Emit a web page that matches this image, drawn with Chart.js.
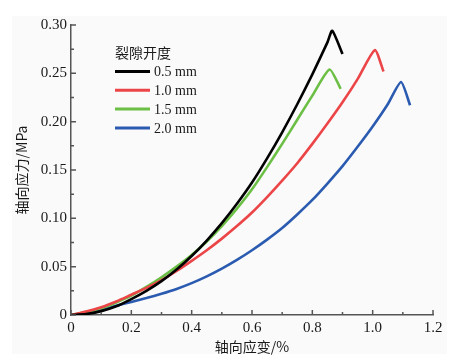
<!DOCTYPE html>
<html>
<head>
<meta charset="utf-8">
<script src="https://cdn.jsdelivr.net/npm/chart.js@4.4.0/dist/chart.umd.min.js"></script>
<style>
  html, body { margin: 0; padding: 0; background: #ffffff; }
  #wrap { width: 460px; height: 358px; }
</style>
</head>
<body>
<div id="wrap"><canvas id="c" width="460" height="358"></canvas></div>
<script>
// ---- data (axial strain %, axial stress MPa) ----
const seriesLabels = ["0.5 mm", "1.0 mm", "1.5 mm", "2.0 mm"];
const seriesColors = ["#000000", "#ec4548", "#6cbf45", "#2a5bb0"];
const legendTitle = "裂隙开度";
const xTitle = "轴向应变/%";
const yTitle = "轴向应力/MPa";

const strain05 = [0, 0.05, 0.1, 0.15, 0.2, 0.25, 0.3, 0.35, 0.4, 0.45, 0.5, 0.55, 0.6, 0.65, 0.7, 0.75, 0.8, 0.85, 0.866, 0.90];
const stress05 = [0, 0.001, 0.004, 0.009, 0.0165, 0.025, 0.035, 0.047, 0.061, 0.077, 0.095, 0.115, 0.137, 0.162, 0.189, 0.218, 0.249, 0.282, 0.294, 0.270];

const strain10 = [0, 0.05, 0.1, 0.15, 0.2, 0.25, 0.3, 0.35, 0.4, 0.45, 0.5, 0.55, 0.6, 0.65, 0.7, 0.75, 0.8, 0.85, 0.9, 0.95, 1.007, 1.036];
const stress10 = [0, 0.0035, 0.008, 0.014, 0.021, 0.028, 0.036, 0.0455, 0.056, 0.067, 0.079, 0.092, 0.106, 0.122, 0.139, 0.157, 0.177, 0.198, 0.220, 0.244, 0.274, 0.252];

const strain15 = [0, 0.05, 0.1, 0.15, 0.2, 0.25, 0.3, 0.35, 0.4, 0.45, 0.5, 0.55, 0.6, 0.65, 0.7, 0.75, 0.8, 0.857, 0.894];
const stress15 = [0, 0.003, 0.007, 0.013, 0.020, 0.029, 0.039, 0.050, 0.062, 0.076, 0.092, 0.110, 0.130, 0.153, 0.177, 0.202, 0.227, 0.254, 0.234];

const strain20 = [0, 0.05, 0.1, 0.15, 0.2, 0.25, 0.3, 0.35, 0.4, 0.45, 0.5, 0.55, 0.6, 0.65, 0.7, 0.75, 0.8, 0.85, 0.9, 0.95, 1.0, 1.05, 1.094, 1.124];
const stress20 = [0, 0.002, 0.005, 0.0095, 0.0135, 0.0175, 0.022, 0.027, 0.033, 0.040, 0.048, 0.057, 0.067, 0.078, 0.090, 0.104, 0.119, 0.136, 0.154, 0.174, 0.195, 0.218, 0.241, 0.217];

const xTicks = [0, 0.2, 0.4, 0.6, 0.8, 1.0, 1.2];
const yTicks = [0, 0.05, 0.10, 0.15, 0.20, 0.25, 0.30];

// ---- build ----
const pairs = (xs, ys) => xs.map((x, i) => ({ x: x, y: ys[i] }));
const strains = [strain05, strain10, strain15, strain20];
const stresses = [stress05, stress10, stress15, stress20];

const AXIS_COLOR = "#555555";
const SERIF = '"Liberation Serif", "Times New Roman", serif';
const TICK_FONT = { family: SERIF, size: 15, weight: "normal" };
const CJK = '"Noto Sans CJK SC", sans-serif';

const panelPlugin = {
  id: "panel",
  beforeDraw(chart) {
    const ctx = chart.ctx;
    ctx.save();
    ctx.fillStyle = "#ffffff";
    ctx.fillRect(0, 0, chart.width, chart.height);
    ctx.fillStyle = "#fafafa";
    ctx.fillRect(12, 16, 435, 338);
    ctx.restore();
  }
};

const innerTicksPlugin = {
  id: "innerTicks",
  afterDraw(chart) {
    const ctx = chart.ctx;
    const xs = chart.scales.x, ys = chart.scales.y;
    const area = chart.chartArea;
    ctx.save();
    ctx.strokeStyle = AXIS_COLOR;
    ctx.lineWidth = 1.5;
    ctx.beginPath();
    for (let i = 0; i <= 12; i++) {
      const v = i * 0.1;
      const px = xs.getPixelForValue(v);
      const len = (i % 2 === 0) ? 5 : 3;
      ctx.moveTo(px, area.bottom);
      ctx.lineTo(px, area.bottom - len);
    }
    for (let i = 0; i <= 12; i++) {
      const v = i * 0.025;
      const py = ys.getPixelForValue(v);
      const len = (i % 2 === 0) ? 5 : 3;
      ctx.moveTo(area.left, py);
      ctx.lineTo(area.left + len, py);
    }
    ctx.stroke();
    ctx.restore();
  }
};

const legendPlugin = {
  id: "innerLegend",
  afterDatasetsDraw(chart) {
    const ctx = chart.ctx;
    ctx.save();
    ctx.fillStyle = "#1a1a1a";
    ctx.textBaseline = "middle";
    ctx.textAlign = "left";
    ctx.font = "14px " + CJK;
    ctx.fillText(legendTitle, 115, 53);
    const rows = [71.5, 90.3, 109, 128];
    chart.data.datasets.forEach((ds, i) => {
      ctx.strokeStyle = ds.borderColor;
      ctx.lineWidth = 3;
      ctx.beginPath();
      ctx.moveTo(115, rows[i]);
      ctx.lineTo(150, rows[i]);
      ctx.stroke();
      ctx.fillStyle = "#1a1a1a";
      ctx.font = "14px " + SERIF;
      ctx.fillText(ds.label, 154, rows[i] + 1);
    });
    ctx.restore();
  }
};

new Chart(document.getElementById("c"), {
  type: "line",
  data: {
    datasets: seriesLabels.map((lab, i) => ({
      label: lab,
      data: pairs(strains[i], stresses[i]),
      borderColor: seriesColors[i],
      backgroundColor: seriesColors[i],
      borderWidth: 2.6,
      pointRadius: 0,
      tension: 0.2,
      fill: false
    }))
  },
  options: {
    responsive: false,
    animation: false,
    layout: { padding: { top: 25, right: 27, left: 0, bottom: 0 } },
    plugins: { legend: { display: false }, tooltip: { enabled: false }, title: { display: false } },
    scales: {
      x: {
        type: "linear",
        min: 0, max: 1.2,
        afterBuildTicks(scale) { scale.ticks = xTicks.map(v => ({ value: v })); },
        afterFit(scale) { scale.height = 43; },
        ticks: {
          padding: 4,
          color: "#1a1a1a",
          font: TICK_FONT,
          maxRotation: 0,
          callback: (v) => (v === 0 ? "0" : Number(v).toFixed(1))
        },
        grid: { display: false, drawTicks: false },
        border: { display: true, color: AXIS_COLOR, width: 1.5 },
        title: {
          display: true, text: xTitle, color: "#1a1a1a",
          font: { family: CJK, size: 14 },
          padding: { top: 0, bottom: 3 }
        }
      },
      y: {
        type: "linear",
        min: 0, max: 0.30,
        afterBuildTicks(scale) { scale.ticks = yTicks.map(v => ({ value: v })); },
        afterFit(scale) { scale.width = 71; },
        ticks: {
          padding: 4,
          color: "#1a1a1a",
          font: TICK_FONT,
          callback: (v) => (v === 0 ? "0" : Number(v).toFixed(2))
        },
        grid: { display: false, drawTicks: false },
        border: { display: true, color: AXIS_COLOR, width: 1.5 },
        title: {
          display: true, text: yTitle, color: "#1a1a1a",
          font: { family: CJK, size: 14 },
          padding: { top: 13, bottom: 0 }
        }
      }
    }
  },
  plugins: [panelPlugin, innerTicksPlugin, legendPlugin]
});
</script>
</body>
</html>
